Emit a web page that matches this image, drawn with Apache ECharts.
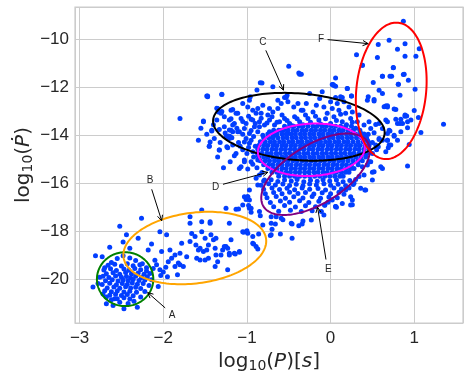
<!DOCTYPE html>
<html>
<head>
<meta charset="utf-8">
<script src="https://cdn.jsdelivr.net/npm/echarts@6/dist/echarts.min.js"></script>
<style>
  html, body { margin: 0; padding: 0; background: #fff; }
  #chart { width: 469px; height: 379px; }
</style>
</head>
<body>
<div id="chart"></div>
<script>
// tick labels
const xTicks = [-3, -2, -1, 0, 1]
const yTicks = [-20, -18, -16, -14, -12, -10]

// population A (small periods)
const groupA = [
  [-2.84,-20.33],[-2.81,-19.02],[-2.73,-19.06],[-2.64,-18.67],[-2.52,-17.79],[-2.26,-17.46],[-2.44,-18.15],[-2.48,-18.45],
  [-2.30,-18.29],[-2.40,-18.71],[-2.68,-21.03],[-2.47,-21.24],[-2.31,-21.17],[-2.60,-21.1],[-2.58,-20.82],[-2.06,-20.31],
  [-2.04,-19.61],[-2.08,-19.40],[-2.10,-19.21],[-2.18,-18.78],[-2.14,-18.53],
  [-2.76,-19.92],[-2.78,-20.18],[-2.72,-20.62],[-2.70,-19.52],[-2.62,-19.30],[-2.55,-19.14],[-2.48,-19.02],[-2.40,-19.12],
  [-2.33,-19.22],[-2.25,-19.36],[-2.20,-19.52],[-2.16,-19.76],[-2.14,-20.02],[-2.17,-20.26],[-2.22,-20.52],[-2.27,-20.74],
  [-2.35,-20.92],[-2.42,-21.02],[-2.52,-20.96],[-2.62,-20.86],[-2.68,-20.74],
  [-2.66,-19.42],[-2.58,-19.38],[-2.50,-19.45],[-2.43,-19.36],[-2.36,-19.44],[-2.28,-19.40],
  [-2.71,-19.62],[-2.63,-19.57],[-2.56,-19.64],[-2.47,-19.58],[-2.41,-19.63],[-2.34,-19.56],[-2.27,-19.61],[-2.20,-19.66],
  [-2.68,-19.77],[-2.60,-19.73],[-2.52,-19.79],[-2.45,-19.72],[-2.38,-19.78],[-2.30,-19.74],[-2.23,-19.80],
  [-2.72,-19.88],[-2.65,-19.93],[-2.57,-19.87],[-2.50,-19.92],[-2.44,-19.89],[-2.39,-19.95],[-2.33,-19.88],[-2.26,-19.93],[-2.19,-19.90],
  [-2.69,-20.07],[-2.61,-20.02],[-2.54,-20.08],[-2.48,-20.03],[-2.42,-20.07],[-2.36,-20.01],[-2.29,-20.06],[-2.22,-20.04],
  [-2.73,-20.22],[-2.64,-20.17],[-2.56,-20.23],[-2.49,-20.18],[-2.43,-20.22],[-2.37,-20.16],[-2.31,-20.21],[-2.24,-20.18],
  [-2.67,-20.37],[-2.59,-20.33],[-2.52,-20.38],[-2.45,-20.32],[-2.39,-20.37],[-2.33,-20.34],[-2.27,-20.39],
  [-2.70,-20.48],[-2.62,-20.53],[-2.55,-20.49],[-2.47,-20.54],[-2.40,-20.50],[-2.32,-20.55],
  [-2.64,-20.67],[-2.57,-20.63],[-2.50,-20.68],[-2.43,-20.64],[-2.36,-20.69],
  [-2.55,-20.82],[-2.47,-20.78],[-2.40,-20.83]
]

// population B (bridge towards the main cloud)
const groupB = [
  [-2.12,-19.55],[-2.00,-19.70],[-1.97,-19.50],[-2.03,-19.85],[-1.95,-19.90],
  [-2.04,-18.02],[-1.96,-18.15],[-2.02,-18.85],[-1.92,-18.78],[-1.90,-19.13],[-1.94,-19.27],[-1.86,-18.99],[-1.82,-19.33],
  [-1.86,-19.47],[-1.83,-19.82],[-1.80,-19.40],[-1.78,-18.50],[-1.80,-18.92],[-1.76,-19.47],[-1.72,-19.06],[-1.68,-17.39],
  [-1.68,-17.67],[-1.66,-18.09],[-1.68,-18.43],[-1.62,-18.22],[-1.61,-18.57],[-1.60,-19.13],[-1.58,-18.78],[-1.56,-18.71],
  [-1.54,-18.02],[-1.54,-17.60],[-1.54,-17.11],[-1.56,-19.20],[-1.52,-18.85],[-1.50,-19.20],[-1.50,-18.29],[-1.48,-18.78],
  [-1.46,-18.57],[-1.46,-19.13],[-1.44,-17.67],[-1.44,-17.60],[-1.43,-18.15],[-1.40,-18.36],[-1.38,-18.71],[-1.38,-19.47],
  [-1.37,-18.99],[-1.37,-18.29],[-1.35,-19.27],[-1.31,-18.99],[-1.29,-18.78],[-1.27,-18.64],[-1.25,-18.64],[-1.23,-18.71],
  [-1.21,-18.92],[-1.21,-18.99],[-1.23,-19.61],[-1.25,-17.04],[-1.21,-17.67],[-1.19,-18.36],[-1.15,-18.92],[-1.13,-17.08],
  [-1.09,-18.85],[-1.05,-18.02],[-1.01,-18.02],[-0.99,-18.08],[-1.05,-16.90],[-1.03,-16.56],[-1.01,-16.67],[-0.97,-17.04],
  [-0.95,-17.04],[-0.93,-18.22],[-0.93,-18.50],[-0.89,-18.64],[-0.81,-17.74],[-0.71,-18.15],[-0.70,-17.92],[-0.71,-17.39],
  [-0.65,-17.39],[-1.00,-16.58],[-0.98,-16.93],[-1.04,-18.04],[-1.00,-17.98],[-0.86,-18.11],[-0.92,-18.53],[-0.87,-18.74],
  [-1.09,-18.88],[-1.14,-18.95],[-0.84,-17.35],[-0.72,-18.18],[-0.60,-18.11],[-0.46,-18.29],[-0.66,-17.70],[-0.57,-17.52],
  [-0.46,-17.70],[-0.38,-17.77],[-0.34,-17.70],[0.07,-17.00],[0.26,-16.89],[0.41,-16.28]
]

// scattered points around the main cloud
const halo = [
  [-1.80,-13.29],[-1.52,-13.40],[-1.47,-12.39],[-1.30,-12.29],[-1.45,-14.45],[-1.33,-14.61],[-1.24,-14.47],[-1.42,-13.82],
  [-1.33,-13.75],[-1.36,-12.87],[-1.30,-13.00],[-1.19,-13.30],[-1.21,-13.77],[-1.20,-14.05],[-1.22,-14.02],[-1.17,-13.85],
  [-1.47,-12.36],[-0.82,-11.81],[-0.69,-11.97],[-0.50,-11.11],[-0.38,-11.39],[-0.37,-11.45],[-0.96,-12.39],[-0.55,-12.42],
  [-0.52,-12.32],[-1.35,-12.88],[-1.31,-13.08],[-1.17,-12.92],[-1.11,-13.08],[-0.99,-12.81],[-0.93,-12.95],[-0.87,-12.88],
  [-0.83,-13.08],[-0.75,-13.15],[-0.69,-13.02],[-0.63,-12.88],[-0.59,-12.67],[-0.51,-12.60],[-0.44,-12.81],[-0.39,-12.67],
  [-0.35,-12.95],[-1.21,-13.36],[-1.15,-13.50],[-1.07,-13.29],[-1.01,-13.50],[-0.95,-13.33],[-0.91,-13.64],[-0.85,-13.43],
  [-0.79,-13.57],[-0.73,-13.36],[-0.67,-13.57],[-0.61,-13.43],[-0.55,-13.29],[-0.49,-13.50],[-0.43,-13.22],[-0.37,-13.43],
  [-1.27,-13.64],[-1.19,-13.78],[-1.11,-13.85],[-1.03,-13.71],[-0.97,-13.92],[-0.87,-13.85],[-0.81,-13.99],[-0.73,-13.85],
  [-0.65,-13.99],[-0.59,-13.78],[-0.51,-13.92],[-1.42,-13.78],[-1.39,-14.13],[-1.25,-14.06],
  [0.03,-11.88],[0.06,-11.95],[0.20,-12.04],[-0.10,-12.18],[-0.35,-11.45],[0.25,-12.36],[0.06,-12.42],[0.14,-12.42],
  [0.44,-12.53],[0.52,-12.50],[0.66,-12.78],[0.68,-12.81],[0.78,-12.92],[0.89,-13.20],[0.84,-13.33],[0.86,-13.50],
  [0.92,-13.43],[0.66,-13.36],[0.58,-13.50],[0.62,-13.71],[0.70,-13.78],[0.76,-14.03],[0.84,-13.85],[0.52,-13.89],
  [0.58,-14.17],[0.68,-14.20],[0.70,-14.40],[0.54,-14.40],[0.44,-14.20],[0.48,-13.71],[0.40,-14.06],[-0.25,-12.25],
  [-0.13,-12.46],[0.00,-12.60],[0.08,-12.67],[0.16,-12.60],[0.22,-12.81],[0.26,-13.02],[0.18,-13.08],[0.10,-12.95],
  [0.02,-12.88],[-0.08,-12.81],[-0.17,-12.74],[-0.29,-12.67],[-0.33,-12.95],[-0.21,-13.02],[-0.04,-13.08],[0.04,-13.22],
  [0.24,-13.29],[0.34,-13.15],[0.32,-13.43],[0.40,-13.57],[0.46,-13.43],[0.14,-13.43],[-0.14,-13.36],[-0.27,-13.29],
  [-1.52,-13.43],[-1.44,-14.27],[-1.33,-14.61],[-1.30,-12.28],[-1.48,-12.36],[-1.19,-12.95],[-1.13,-13.08],[-1.09,-13.85],
  [-1.01,-14.13],[-0.97,-14.33],[-1.07,-15.31],[-1.03,-15.03],[-0.97,-16.28],[-0.99,-16.56],[-0.85,-15.65],[-0.79,-15.86],
  [-1.21,-14.13],[-1.17,-13.57],[-1.27,-13.22],[-1.34,-13.02],[-1.36,-13.36],[-0.93,-13.36],[-0.89,-13.08],[-0.85,-13.64],
  [-1.17,-14.40],[-1.13,-14.75],[-0.93,-14.68],[-0.87,-15.03],[-1.05,-12.67],[-0.97,-12.53],[-0.81,-12.74],[-0.73,-12.88],
  [-0.63,-12.53],[-0.53,-12.42],[-0.84,-11.80],[-0.88,-12.10],
  [-1.55,-13.70],[-1.48,-13.95],[-1.40,-13.55],[-1.32,-14.30],[-1.26,-13.90],[-1.18,-14.10],[-1.12,-13.70],[-1.05,-13.95],
  [-0.98,-14.50],[-0.95,-13.80],[-0.92,-14.05],[-1.08,-14.45],[-1.15,-14.85],[-1.00,-14.75],[-0.93,-15.20],[-1.45,-14.45],
  [-1.58,-14.20],[-1.35,-14.90],[-1.20,-15.10],[-1.28,-15.35],
  [-1.05,-13.42],[-0.98,-13.20],[-0.90,-13.50],[-0.83,-13.28],[-0.76,-13.48],[-0.70,-13.22],[-0.64,-13.45],[-0.58,-13.15],
  [-0.52,-13.38],[-0.46,-13.60],[-0.40,-13.30],[-0.33,-13.55],[-0.30,-13.15],[-0.24,-13.45],[-0.18,-13.20],[-0.12,-13.52],
  [-0.06,-13.30],[0.00,-13.50],[0.07,-13.38],[0.12,-13.12],[0.19,-13.55],[0.26,-13.45],[0.30,-13.70],[0.36,-13.90],
  [0.45,-13.95],[0.50,-14.30],[0.55,-14.60],[0.42,-14.80],[-1.10,-14.30],[-0.95,-14.20],[-0.90,-14.45],[-1.05,-14.60],
  [-0.92,-14.90],[-0.95,-15.10],[-0.88,-15.35],[-0.82,-15.55]
]

// long-period tail (upper right)
const groupF = [
  [0.87,-9.24],[0.70,-10.03],[0.57,-10.21],[0.80,-10.40],[0.89,-10.17],[1.06,-10.38],[0.31,-10.63],[0.56,-10.75],
  [0.89,-10.70],[1.02,-10.70],[0.38,-11.07],[0.75,-11.18],[0.62,-11.53],[0.73,-11.53],[0.87,-11.46],[0.93,-11.70],
  [0.06,-11.60],[0.02,-11.88],[0.04,-11.92],[0.51,-11.79],[0.81,-11.86],[0.20,-12.04],[0.58,-12.11],[0.62,-12.25],
  [1.01,-12.07],[0.83,-12.32],[0.45,-12.39],[0.52,-12.56],[0.12,-12.39],[0.25,-12.35],[0.66,-12.77],[0.64,-12.80],
  [0.68,-12.76],[0.76,-12.90],[1.00,-12.96],[0.89,-13.15],[0.91,-13.19],[1.05,-13.25],[0.96,-13.36],[0.78,-13.33],
  [0.80,-13.50],[0.83,-13.50],[0.54,-13.54],[0.68,-13.43],[0.92,-13.68],[1.08,-13.88],[1.35,-13.53],[0.71,-13.82],
  [0.76,-13.99],[0.80,-14.20],[0.94,-14.38],[0.62,-14.20],[0.68,-14.20],[0.69,-14.52],[0.62,-15.38],[0.92,-15.28],
  [0.46,-14.68],[0.57,-14.47],[0.38,-11.07],[0.88,-11.45],[0.75,-11.17],[0.62,-11.53],[0.71,-11.53],[0.81,-11.86]
]

// dense core, stored as rows: [log Pdot, [log P ...]]
const coreRows = [
  [-13.62, [-0.55,-0.49,-0.44,-0.38,-0.33,-0.27,-0.21,-0.16,-0.10,-0.05,0.01,0.06,0.12,0.18,0.25]],
  [-13.78, [-0.68,-0.62,-0.56,-0.51,-0.45,-0.40,-0.34,-0.29,-0.23,-0.18,-0.12,-0.07,-0.01,0.04,0.10,0.15,0.21,0.27,0.35]],
  [-13.94, [-0.75,-0.69,-0.64,-0.58,-0.53,-0.47,-0.42,-0.36,-0.31,-0.25,-0.20,-0.14,-0.09,-0.03,0.02,0.08,0.13,0.19,0.24,0.30,0.36,0.40]],
  [-14.10, [-0.80,-0.74,-0.69,-0.63,-0.57,-0.52,-0.46,-0.41,-0.35,-0.30,-0.24,-0.19,-0.13,-0.08,-0.02,0.03,0.09,0.14,0.20,0.25,0.31,0.37,0.43]],
  [-14.26, [-0.84,-0.78,-0.72,-0.67,-0.61,-0.56,-0.50,-0.45,-0.39,-0.34,-0.28,-0.23,-0.17,-0.12,-0.06,-0.01,0.05,0.10,0.16,0.21,0.27,0.33,0.39,0.45]],
  [-14.42, [-0.86,-0.80,-0.75,-0.69,-0.64,-0.58,-0.53,-0.47,-0.42,-0.36,-0.31,-0.25,-0.20,-0.14,-0.09,-0.03,0.02,0.08,0.13,0.19,0.24,0.30,0.35,0.41,0.46]],
  [-14.58, [-0.87,-0.81,-0.76,-0.70,-0.65,-0.59,-0.54,-0.48,-0.43,-0.37,-0.32,-0.26,-0.21,-0.15,-0.10,-0.04,0.01,0.07,0.12,0.18,0.23,0.29,0.34,0.40,0.46]],
  [-14.74, [-0.87,-0.82,-0.76,-0.71,-0.65,-0.60,-0.54,-0.49,-0.43,-0.38,-0.32,-0.27,-0.21,-0.16,-0.10,-0.05,0.01,0.06,0.12,0.17,0.23,0.28,0.34,0.39,0.45]],
  [-14.90, [-0.86,-0.80,-0.75,-0.69,-0.64,-0.58,-0.53,-0.47,-0.42,-0.36,-0.31,-0.25,-0.20,-0.14,-0.09,-0.03,0.02,0.08,0.13,0.19,0.24,0.30,0.36,0.42]],
  [-15.06, [-0.84,-0.78,-0.73,-0.67,-0.62,-0.56,-0.51,-0.45,-0.40,-0.34,-0.29,-0.23,-0.18,-0.12,-0.07,-0.01,0.04,0.10,0.15,0.21,0.27,0.33,0.38]],
  [-15.22, [-0.80,-0.74,-0.69,-0.63,-0.58,-0.52,-0.47,-0.41,-0.36,-0.30,-0.25,-0.19,-0.14,-0.08,-0.03,0.03,0.08,0.14,0.19,0.25,0.33]],
  [-15.38, [-0.75,-0.69,-0.64,-0.58,-0.53,-0.47,-0.42,-0.36,-0.31,-0.25,-0.20,-0.14,-0.09,-0.03,0.02,0.08,0.13,0.19,0.24,0.28]],
  [-15.54, [-0.70,-0.64,-0.59,-0.53,-0.48,-0.42,-0.37,-0.31,-0.26,-0.20,-0.15,-0.09,-0.04,0.02,0.07,0.13,0.18,0.22]],
  [-15.70, [-0.62,-0.55,-0.49,-0.43,-0.37,-0.31,-0.25,-0.19,-0.13,-0.07,-0.01,0.05,0.11,0.15]]
]

// below the core (group E area)
const lower = [
  [-0.80,-15.90],[-0.71,-15.85],[-0.63,-15.92],[-0.55,-15.86],[-0.47,-15.90],[-0.40,-15.84],[-0.32,-15.93],[-0.24,-15.87],
  [-0.16,-15.91],[-0.09,-15.85],[-0.01,-15.90],[0.07,-15.86],[0.15,-15.93],[0.23,-15.88],[0.30,-15.84],
  [-0.83,-16.08],[-0.74,-16.02],[-0.66,-16.07],[-0.57,-16.03],[-0.49,-16.09],[-0.41,-16.04],[-0.33,-16.10],[-0.25,-16.03],
  [-0.17,-16.07],[-0.08,-16.02],[0.00,-16.08],[0.09,-16.04],[0.18,-16.10],[0.27,-16.05],
  [-0.80,-16.25],[-0.70,-16.20],[-0.61,-16.26],[-0.52,-16.21],[-0.43,-16.27],[-0.34,-16.20],[-0.25,-16.25],[-0.15,-16.22],
  [-0.06,-16.28],[0.04,-16.20],[0.13,-16.24],[0.22,-16.19],
  [-0.78,-16.43],[-0.68,-16.38],[-0.58,-16.44],[-0.49,-16.37],[-0.39,-16.42],[-0.30,-16.38],[-0.20,-16.45],[-0.10,-16.39],
  [0.00,-16.43],[0.10,-16.37],[0.16,-16.46],
  [-0.76,-16.60],[-0.65,-16.55],[-0.54,-16.62],[-0.44,-16.56],[-0.33,-16.61],[-0.22,-16.55],[-0.12,-16.62],[-0.02,-16.57],[0.08,-16.60],
  [-0.72,-16.80],[-0.60,-16.74],[-0.49,-16.79],[-0.37,-16.73],[-0.26,-16.80],[-0.14,-16.75],[-0.03,-16.79],
  [-0.68,-16.98],[-0.55,-16.93],[-0.42,-16.99],[-0.30,-16.94],[-0.18,-16.98],[-0.07,-16.92],
  [-0.62,-17.17],[-0.48,-17.12],[-0.35,-17.18],[-0.22,-17.14],
  [-0.71,-17.67],[-0.59,-17.46],[-0.47,-17.67],[-0.33,-17.57],[-0.23,-17.53],[-0.08,-17.32],[0.06,-16.97],[0.24,-16.90],
  [0.26,-16.70],[0.36,-16.21],[0.40,-15.65],[0.48,-15.10],[0.44,-15.24],[0.50,-15.54],[-0.95,-17.21],[-0.85,-17.18],
  [-1.10,-17.07],[-0.99,-16.56],[-0.97,-16.70],[-0.87,-16.07],[-0.89,-15.79],[-0.99,-15.40],[-1.09,-15.38],[-1.03,-15.10],
  [-0.87,-14.82],[-1.03,-14.27],[-1.23,-14.52],[0.50,-15.86],[0.60,-15.31],[0.52,-15.52],[0.42,-16.28],[0.58,-14.13],
  [0.66,-14.68],[0.68,-13.92],[0.72,-14.40],[0.50,-14.75],[0.46,-15.10],[0.38,-15.31],[0.34,-15.72],[0.28,-16.00],
  [0.18,-16.28],[0.24,-16.56],[0.14,-16.84],[0.02,-16.70],[0.06,-16.97],[-0.07,-16.90],[-0.11,-17.18]
]

// ellipses drawn round the groups: centre, major and minor half-axis vectors (data units)
const ellipseNames = ['A', 'B', 'C', 'D', 'E', 'F']
const ellipseCenters = [[-2.456,-20.0],[-1.623,-18.70],[-0.379,-13.64],[-0.230,-14.60],[-0.180,-15.62],[0.725,-12.14]]
const ellipseMajor = [[0.337,0],[0.852,0.382],[1.025,-0.283],[0.639,0.117],[0.622,1.344],[0.083,2.844]]
const ellipseMinor = [[0,1.125],[-0.054,1.463],[0.031,1.387],[-0.016,1.09],[-0.184,1.042],[0.415,-0.148]]

// annotations: label position, arrow tail, arrow head
const annotLabels = ['A', 'B', 'C', 'D', 'E', 'F']
const annotText = [[-1.893,-21.49],[-2.158,-15.89],[-0.810,-10.125],[-1.373,-16.17],[-0.027,-19.57],[-0.114,-9.975]]
const annotTail = [[-1.977,-21.2],[-2.138,-16.25],[-0.774,-10.45],[-1.286,-16.04],[-0.055,-19.18],[-0.036,-10.0]]
const annotHead = [[-2.186,-20.56],[-2.019,-17.56],[-0.563,-12.11],[-0.75,-15.54],[-0.155,-17.0],[0.449,-10.17]]

const ellipseColors = { A: '#008000', B: '#ffa500', C: '#000000', D: '#ff00ff', E: '#800080', F: '#ff0000' }
const textColor = '#262626'
const gridColor = '#cccccc'

const corePoints = []
coreRows.forEach(([y, xs]) => xs.forEach(x => corePoints.push([x, y])))
const allPoints = [].concat(groupA, groupB, halo, groupF, corePoints, lower)

const minus = v => String(v).replace('-', '\u2212')

const chart = echarts.init(document.getElementById('chart'))

const nameRich = {
  n: { fontFamily: 'DejaVu Sans', fontSize: 20, color: textColor },
  it: { fontFamily: 'DejaVu Sans', fontStyle: 'italic', fontSize: 20, color: textColor },
  sub: { fontFamily: 'DejaVu Sans', fontSize: 14, color: textColor, padding: [9, 0, 0, 0] }
}

const option = {
  animation: false,
  backgroundColor: '#ffffff',
  grid: {
    left: 75, right: 6, top: 7, bottom: 56,
    show: true,
    borderColor: gridColor,
    borderWidth: 1.25
  },
  xAxis: {
    type: 'value',
    min: -3.055,
    max: 1.583,
    splitNumber: 5,
    name: '{n|log}{sub|10}{n|(}{it|P}{n|)[}{it|s}{n|]}',
    nameLocation: 'middle',
    nameGap: 27,
    nameMoveOverlap: false,
    nameTextStyle: { rich: nameRich },
    axisLine: { show: false },
    axisTick: { show: false },
    splitLine: { lineStyle: { color: gridColor, width: 1 } },
    axisLabel: {
      customValues: xTicks,
      formatter: minus,
      margin: 7,
      fontFamily: 'Liberation Sans',
      fontSize: 17,
      color: textColor
    }
  },
  yAxis: {
    type: 'value',
    min: -21.83,
    max: -8.64,
    splitNumber: 6,
    name: '{n|log}{sub|10}{n|(}{it|Ṗ}{n|)}',
    nameLocation: 'middle',
    nameGap: 40,
    nameMoveOverlap: false,
    nameRotate: 90,
    nameTextStyle: { rich: nameRich },
    axisLine: { show: false },
    axisTick: { show: false },
    splitLine: { lineStyle: { color: gridColor, width: 1 } },
    axisLabel: {
      customValues: yTicks,
      formatter: minus,
      margin: 6,
      fontFamily: 'Liberation Sans',
      fontSize: 17,
      color: textColor
    }
  },
  series: [
    {
      type: 'scatter',
      data: allPoints,
      symbol: 'circle',
      symbolSize: 5,
      itemStyle: { color: '#023eff', opacity: 1 },
      z: 2
    },
    {
      type: 'custom',
      data: ellipseCenters.map((c, i) => [c[0], c[1], i]),
      clip: false,
      z: 3,
      renderItem: (params, api) => {
        const i = params.dataIndex
        const c = ellipseCenters[i], u = ellipseMajor[i], v = ellipseMinor[i]
        const pts = []
        for (let k = 0; k < 160; k++) {
          const t = (k / 160) * Math.PI * 2
          pts.push(api.coord([
            c[0] + u[0] * Math.cos(t) + v[0] * Math.sin(t),
            c[1] + u[1] * Math.cos(t) + v[1] * Math.sin(t)
          ]))
        }
        return {
          type: 'polygon',
          shape: { points: pts },
          style: { fill: 'none', stroke: ellipseColors[ellipseNames[i]], lineWidth: 2 }
        }
      }
    },
    {
      type: 'custom',
      data: annotText.map((p, i) => [p[0], p[1], i]),
      clip: false,
      z: 4,
      renderItem: (params, api) => {
        const i = params.dataIndex
        const p0 = api.coord(annotTail[i])
        const p1 = api.coord(annotHead[i])
        const pt = api.coord(annotText[i])
        const ang = Math.atan2(p1[1] - p0[1], p1[0] - p0[0])
        const len = 6, spread = 0.45
        const w1 = [p1[0] - len * Math.cos(ang - spread), p1[1] - len * Math.sin(ang - spread)]
        const w2 = [p1[0] - len * Math.cos(ang + spread), p1[1] - len * Math.sin(ang + spread)]
        const ls = { stroke: '#000000', lineWidth: 1 }
        return {
          type: 'group',
          children: [
            { type: 'line', shape: { x1: p0[0], y1: p0[1], x2: p1[0], y2: p1[1] }, style: ls },
            { type: 'polyline', shape: { points: [w1, p1, w2] }, style: Object.assign({ fill: 'none' }, ls) },
            {
              type: 'text',
              x: pt[0], y: pt[1],
              style: {
                text: annotLabels[i],
                fill: textColor,
                font: '10px "Liberation Sans"',
                align: 'center',
                verticalAlign: 'middle'
              }
            }
          ]
        }
      }
    }
  ]
}

chart.setOption(option)
</script>
</body>
</html>
